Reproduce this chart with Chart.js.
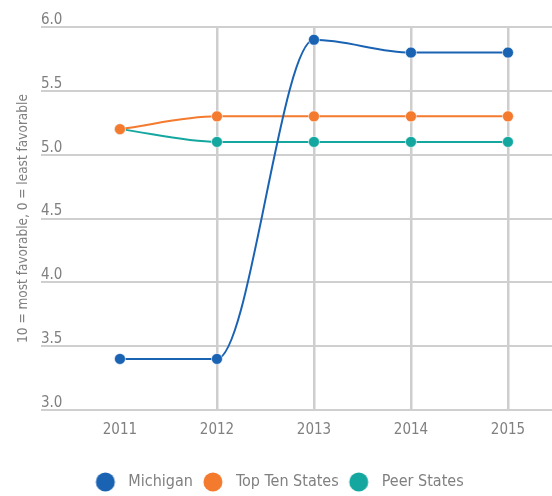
<!DOCTYPE html>
<html>
<head>
<meta charset="utf-8">
<script src="https://cdn.jsdelivr.net/npm/chart.js@4.4.1/dist/chart.umd.min.js"></script>
<style>
  html, body { margin: 0; padding: 0; background: #ffffff; }
  canvas { display: block; }
</style>
</head>
<body>
<canvas id="chart" width="552" height="496"></canvas>
<script>
// Survey years and scores (10 = most favorable, 0 = least favorable)
const years = [2011, 2012, 2013, 2014, 2015];
const michigan = [3.4, 3.4, 5.9, 5.8, 5.8];
const topTenStates = [5.2, 5.3, 5.3, 5.3, 5.3];
const peerStates = [5.2, 5.1, 5.1, 5.1, 5.1];
const yTickValues = [3.0, 3.5, 4.0, 4.5, 5.0, 5.5, 6.0];
const seriesNames = ['Michigan', 'Top Ten States', 'Peer States'];
const seriesColors = ['#1a63b3', '#f47a2e', '#14a7a0'];
const axisTitle = '10 = most favorable, 0 = least favorable';

const FONT = '"Liberation Sans Narrow", "DejaVu Sans Condensed", "Liberation Sans", sans-serif';
const TEXT_COLOR = '#808080';
const GRID_COLOR = '#d0cdcd';

// Legend marker: a round dot on a wider canvas, leaving room on both sides
const DOT_CANVAS_W = 32;
function legendDot(color) {
  const c = document.createElement('canvas');
  c.width = DOT_CANVAS_W;
  c.height = 20;
  const g = c.getContext('2d');
  g.fillStyle = color;
  g.beginPath();
  g.arc(17, 10, 9.5, 0, Math.PI * 2);
  g.fill();
  return c;
}

function series(values) {
  return values.map((v, i) => ({ x: years[i], y: v }));
}

const allSeries = [michigan, topTenStates, peerStates];
const datasets = allSeries.map((vals, i) => ({
  label: seriesNames[i],
  data: series(vals),
  borderColor: seriesColors[i],
  backgroundColor: seriesColors[i],
  pointBackgroundColor: seriesColors[i],
  pointBorderColor: 'rgba(255,255,255,0.6)',
  borderWidth: 2,
  pointRadius: 5.5,
  pointBorderWidth: 1,
  cubicInterpolationMode: 'monotone',
  fill: false
}));

new Chart(document.getElementById('chart'), {
  type: 'line',
  data: { datasets },
  options: {
    responsive: false,
    animation: false,
    events: [],
    layout: { autoPadding: false, padding: { top: 27, left: 0, right: 0, bottom: -4 } },
    scales: {
      x: {
        type: 'linear',
        min: 2010.186,
        max: 2015.454,
        afterBuildTicks: s => { s.ticks = years.map(v => ({ value: v })); },
        afterFit: s => { s.height = 61; s.paddingLeft = 0; s.paddingRight = 0; },
        ticks: {
          color: TEXT_COLOR,
          font: { family: FONT, size: 15 },
          padding: 11,
          callback: v => String(v)
        },
        grid: {
          color: c => (c.tick && c.tick.value === years[0]) ? 'rgba(0,0,0,0)' : GRID_COLOR,
          lineWidth: 2.5,
          drawTicks: false
        },
        border: { display: false }
      },
      y: {
        min: 3,
        max: 6,
        afterBuildTicks: s => { s.ticks = yTickValues.map(v => ({ value: v })); },
        afterFit: s => { s.width = 41; s.paddingTop = 0; s.paddingBottom = 0; },
        ticks: {
          mirror: true,
          padding: 0,
          labelOffset: -7,
          color: TEXT_COLOR,
          font: { family: FONT, size: 15 },
          callback: v => Number(v).toFixed(1)
        },
        grid: { color: '#cfcfcf', lineWidth: 2, drawTicks: false },
        border: { display: false },
        title: {
          display: true,
          text: axisTitle,
          color: TEXT_COLOR,
          font: { family: FONT, size: 13.5 },
          padding: { top: 15, bottom: 0 }
        }
      }
    },
    plugins: {
      tooltip: { enabled: false },
      legend: {
        position: 'bottom',
        align: 'center',
        labels: {
          usePointStyle: true,
          pointStyleWidth: DOT_CANVAS_W,
          color: TEXT_COLOR,
          font: { family: FONT, size: 16 },
          padding: 3,
          generateLabels: chart => chart.data.datasets.map((ds, i) => ({
            text: ds.label,
            fillStyle: ds.borderColor,
            strokeStyle: ds.borderColor,
            lineWidth: 0,
            pointStyle: legendDot(ds.borderColor),
            fontColor: TEXT_COLOR,
            hidden: false,
            datasetIndex: i
          }))
        }
      }
    }
  }
});
</script>
</body>
</html>
